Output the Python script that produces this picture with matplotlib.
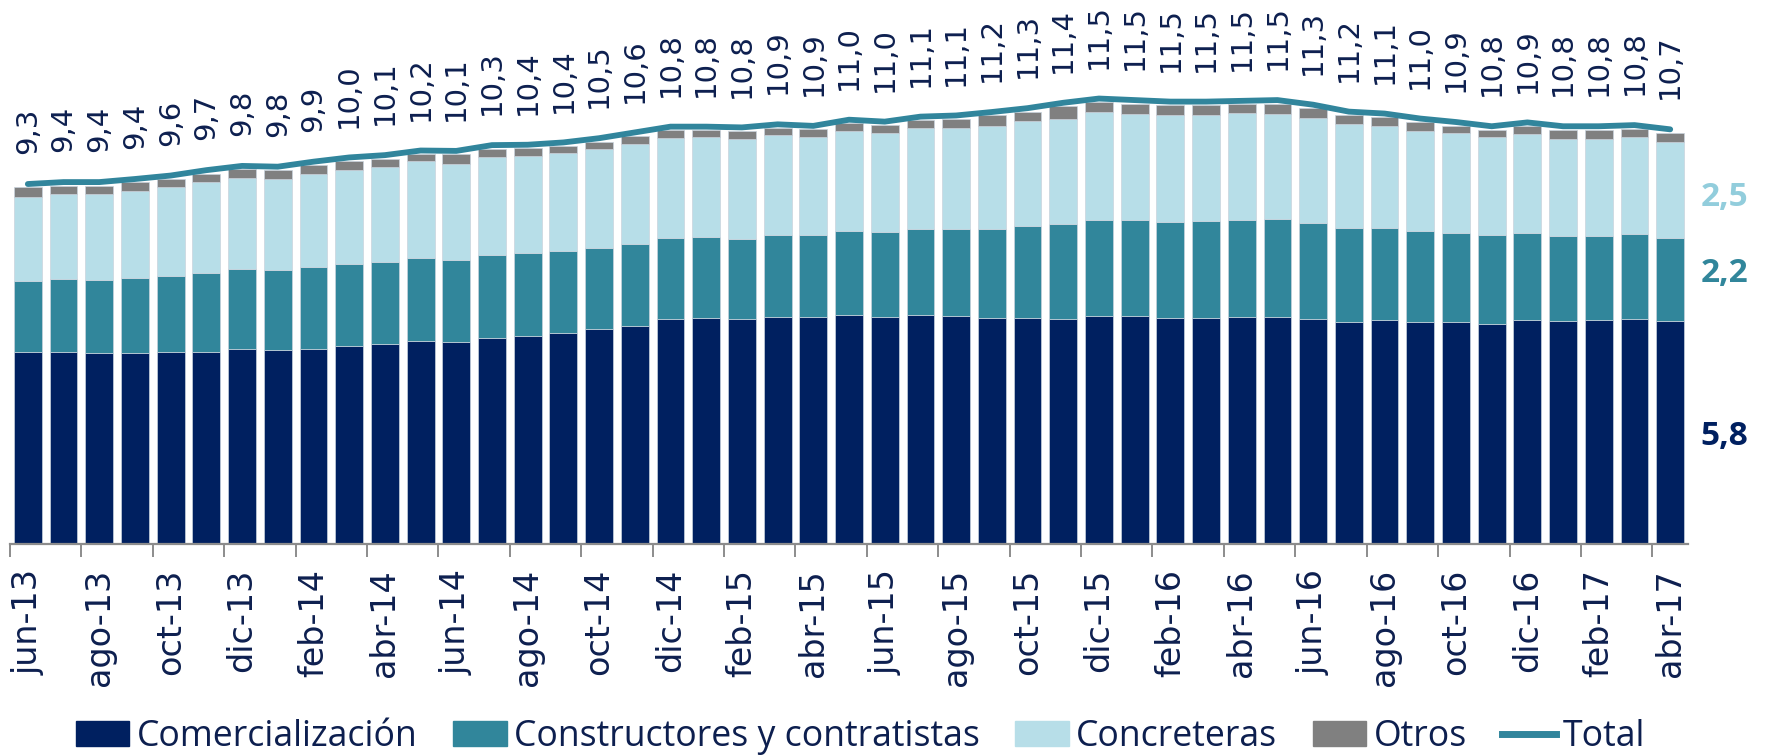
import matplotlib
matplotlib.use("Agg")
import matplotlib.pyplot as plt
import matplotlib.transforms as mtransforms
from matplotlib.patches import Patch
from matplotlib.lines import Line2D
import numpy as np

meses = ["jun-13", "jul-13", "ago-13", "sep-13", "oct-13", "nov-13", "dic-13",
         "ene-14", "feb-14", "mar-14", "abr-14", "may-14", "jun-14", "jul-14",
         "ago-14", "sep-14", "oct-14", "nov-14", "dic-14", "ene-15", "feb-15",
         "mar-15", "abr-15", "may-15", "jun-15", "jul-15", "ago-15", "sep-15",
         "oct-15", "nov-15", "dic-15", "ene-16", "feb-16", "mar-16", "abr-16",
         "may-16", "jun-16", "jul-16", "ago-16", "sep-16", "oct-16", "nov-16",
         "dic-16", "ene-17", "feb-17", "mar-17", "abr-17"]

comercializacion = [4.98, 4.98, 4.97, 4.97, 5.00, 5.00, 5.07, 5.05, 5.07, 5.15,
                    5.19, 5.28, 5.25, 5.36, 5.41, 5.48, 5.58, 5.67, 5.84, 5.88,
                    5.84, 5.90, 5.90, 5.96, 5.90, 5.95, 5.92, 5.88, 5.88, 5.84,
                    5.93, 5.92, 5.88, 5.88, 5.89, 5.90, 5.85, 5.77, 5.82, 5.77,
                    5.77, 5.72, 5.81, 5.80, 5.81, 5.84, 5.80]
constructores = [1.85, 1.90, 1.89, 1.94, 1.97, 2.04, 2.06, 2.06, 2.12, 2.13,
                 2.14, 2.15, 2.12, 2.15, 2.15, 2.13, 2.11, 2.13, 2.11, 2.10,
                 2.08, 2.12, 2.12, 2.17, 2.20, 2.23, 2.26, 2.31, 2.38, 2.46,
                 2.49, 2.49, 2.49, 2.50, 2.53, 2.53, 2.48, 2.44, 2.40, 2.36,
                 2.32, 2.30, 2.28, 2.21, 2.20, 2.21, 2.16]
concreteras = [2.17, 2.20, 2.23, 2.26, 2.30, 2.36, 2.38, 2.38, 2.42, 2.44,
               2.46, 2.51, 2.50, 2.54, 2.53, 2.54, 2.56, 2.58, 2.60, 2.58,
               2.59, 2.60, 2.56, 2.61, 2.58, 2.62, 2.63, 2.68, 2.72, 2.75,
               2.81, 2.77, 2.78, 2.77, 2.77, 2.75, 2.73, 2.69, 2.65, 2.60,
               2.58, 2.55, 2.56, 2.52, 2.52, 2.51, 2.49]
otros = [0.26, 0.23, 0.22, 0.22, 0.21, 0.22, 0.22, 0.22, 0.23, 0.23,
         0.22, 0.19, 0.25, 0.22, 0.19, 0.19, 0.20, 0.22, 0.20, 0.19,
         0.22, 0.19, 0.19, 0.19, 0.20, 0.21, 0.23, 0.26, 0.25, 0.32,
         0.25, 0.26, 0.25, 0.25, 0.23, 0.26, 0.26, 0.24, 0.22, 0.23,
         0.20, 0.19, 0.21, 0.23, 0.23, 0.23, 0.23]
total = [9.3, 9.4, 9.4, 9.4, 9.6, 9.7, 9.8, 9.8, 9.9, 10.0, 10.1, 10.2, 10.1,
         10.3, 10.4, 10.4, 10.5, 10.6, 10.8, 10.8, 10.8, 10.9, 10.9, 11.0,
         11.0, 11.1, 11.1, 11.2, 11.3, 11.4, 11.5, 11.5, 11.5, 11.5, 11.5,
         11.5, 11.3, 11.2, 11.1, 11.0, 10.9, 10.8, 10.9, 10.8, 10.8, 10.8, 10.7]

c_com = "#002060"
c_con = "#31869B"
c_cnc = "#B7DEE8"
c_otr = "#808080"
c_tot = "#31859C"
c_txt = "#0D1F4F"

x = np.arange(len(meses))
com = np.array(comercializacion)
con = np.array(constructores)
cnc = np.array(concreteras)
otr = np.array(otros)

fig = plt.figure(figsize=(17.66, 7.56), dpi=100)
ax = fig.add_axes([0.00566, 0.2804, 0.9502, 0.713])

w = 0.78
ec = "#c9d3dd"
ax.bar(x, com, w, color=c_com, edgecolor=ec, linewidth=0.5)
ax.bar(x, con, w, bottom=com, color=c_con, edgecolor=ec, linewidth=0.5)
ax.bar(x, cnc, w, bottom=com + con, color=c_cnc, edgecolor=ec, linewidth=0.5)
ax.bar(x, otr, w, bottom=com + con + cnc, color=c_otr, edgecolor=ec, linewidth=0.5)

suma = com + con + cnc + otr
# la linea de total queda un poco por encima de las barras
tr_linea = mtransforms.offset_copy(ax.transData, fig=fig, x=0, y=2.5, units="points")
ax.plot(x, suma, color=c_tot, linewidth=4.2, solid_joinstyle="round",
        solid_capstyle="round", transform=tr_linea)

for i, v in enumerate(total):
    ax.annotate(f"{v:.1f}".replace(".", ","), (x[i], suma[i]),
                xytext=(0, 24), textcoords="offset points",
                rotation=90, ha="center", va="bottom",
                fontsize=21, color=c_txt)

# etiquetas del ultimo mes a la derecha
ax.text(47.52, 9.0, f"{cnc[-1]:.1f}".replace(".", ","), color="#92CDDC",
        fontsize=24, fontweight="bold", family="Open Sans", ha="center", va="center")
ax.text(47.52, 7.02, f"{con[-1]:.1f}".replace(".", ","), color=c_con,
        fontsize=24, fontweight="bold", family="Open Sans", ha="center", va="center")
ax.text(47.52, 2.8, f"{com[-1]:.1f}".replace(".", ","), color=c_com,
        fontsize=24, fontweight="bold", family="Open Sans", ha="center", va="center")

ax.set_xlim(-0.5, len(meses) - 0.5)
ax.set_ylim(0, 14)
ax.set_yticks([])
for s in ["top", "right", "left"]:
    ax.spines[s].set_visible(False)
ax.spines["bottom"].set_color("#8c8c8c")
ax.spines["bottom"].set_linewidth(1.6)

ax.set_xticks(x[::2] - 0.5)
ax.set_xticklabels([])
ax.tick_params(axis="x", which="major", length=9.5, width=1.4, color="#8c8c8c")
ax.set_xticks(x[::2], minor=True)
ax.set_xticklabels(meses[::2], minor=True, rotation=90, fontsize=24, color=c_txt)
ax.tick_params(axis="x", which="minor", length=0, pad=18)

handles = [Patch(color=c_com, label="Comercialización"),
           Patch(color=c_con, label="Constructores y contratistas"),
           Patch(color=c_cnc, label="Concreteras"),
           Patch(color=c_otr, label="Otros"),
           Line2D([], [], color=c_tot, linewidth=5, label="Total")]
fig.legend(handles=handles, loc="center left", bbox_to_anchor=(0.043, 0.025),
           ncol=5, frameon=False, prop={"family": "Open Sans", "size": 25.7},
           labelcolor=c_txt, handlelength=1.5, handleheight=0.7,
           handletextpad=0.2, columnspacing=1.0, borderpad=0, borderaxespad=0)

fig.savefig("out.png", dpi=100)
